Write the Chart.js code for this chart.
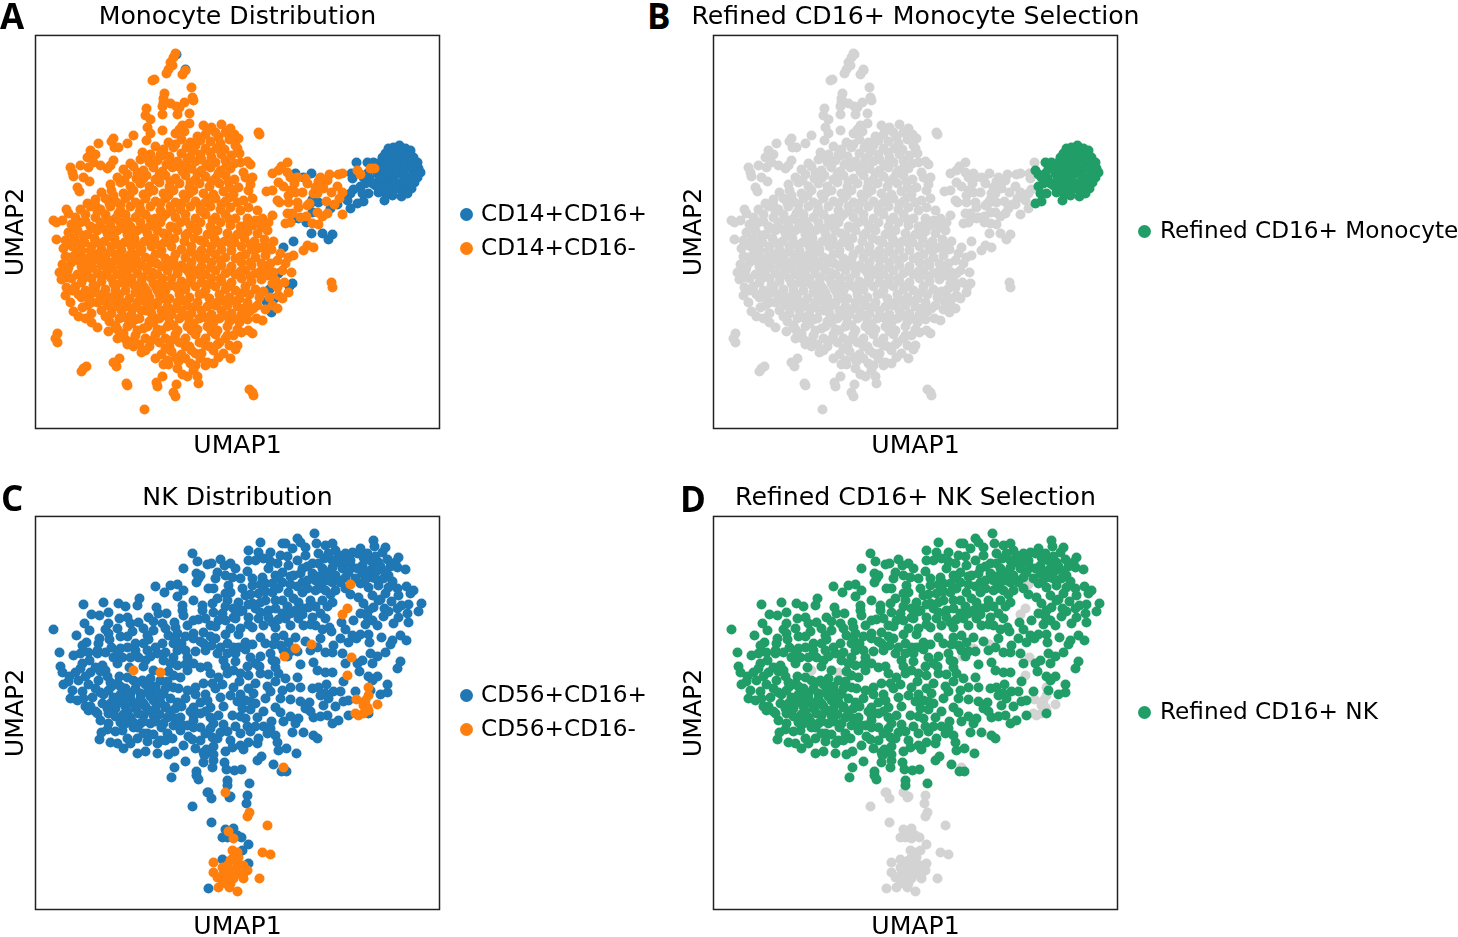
<!DOCTYPE html>
<html>
<head>
<meta charset="utf-8">
<script src="https://cdn.jsdelivr.net/npm/chart.js@4/dist/chart.umd.js"></script>
<style>
  html, body { margin: 0; padding: 0; background: #fff; }
  body { position: relative; width: 1458px; height: 937px; overflow: hidden; font-family: "DejaVu Sans", sans-serif; color: #000; }
  canvas { position: absolute; }
  .letter { position: absolute; font: bold 35px "Open Sans", sans-serif; line-height: 35px; }
  .dot { position: absolute; width: 13px; height: 13px; border-radius: 50%; }
  .lab { position: absolute; font-size: 23.2px; line-height: 28px; white-space: nowrap; }
</style>
</head>
<body>
<canvas id="a" style="left:0;top:0"></canvas>
<canvas id="b" style="left:678px;top:0"></canvas>
<canvas id="c" style="left:0;top:481px"></canvas>
<canvas id="d" style="left:678px;top:481px"></canvas>

<div class="letter" style="left:0;top:-2px">A</div>
<div class="letter" style="left:647px;top:-2px">B</div>
<div class="letter" style="left:1px;top:480px">C</div>
<div class="letter" style="left:680px;top:481px">D</div>

<div class="dot" style="left:460px;top:208px;background:#1f77b4"></div><div class="lab" style="left:481px;top:199px">CD14+CD16+</div>
<div class="dot" style="left:460px;top:242px;background:#ff7f0e"></div><div class="lab" style="left:481px;top:233px">CD14+CD16-</div>
<div class="dot" style="left:1138px;top:225px;background:#219d68"></div><div class="lab" style="left:1160px;top:216px">Refined CD16+ Monocyte</div>
<div class="dot" style="left:460px;top:689px;background:#1f77b4"></div><div class="lab" style="left:481px;top:680px">CD56+CD16+</div>
<div class="dot" style="left:460px;top:723px;background:#ff7f0e"></div><div class="lab" style="left:481px;top:714px">CD56+CD16-</div>
<div class="dot" style="left:1138px;top:706px;background:#219d68"></div><div class="lab" style="left:1160px;top:697px">Refined CD16+ NK</div>

<script>
// values, axis units are arbitrary UMAP units, y grows downward
const monoPosCore = [
  [364,110],[353,113],[358,112],[370,113],[375,115],[347,122],[343,128],[350,118],[357,119],[364,117],[371,120],[378,122],
  [345,133],[352,126],[359,125],[366,124],[373,127],[380,128],[349,133],[356,132],[363,131],[370,133],[377,134],[383,133],
  [385,137],[342,138],[348,140],[355,139],[362,138],[369,140],[376,141],[382,142],[345,147],[352,146],[359,146],[366,147],
  [373,148],[379,147],[340,150],[348,153],[355,153],[362,153],[369,154],[376,153],[343,157],[351,159],[357,160],[366,161],
  [372,158],[349,165],[334,143],[337,148],[332,138],[338,133],[344,143],[382,127],[328,142],[325,151],[333,158],[327,158],
  [328,166],[322,168],[332,127],[338,127],[330,148]
];
const monoNegCore = [[322,135],[325,139],[335,133],[339,133]];
const monoPosOther = [
  [321,127],[316,138],[317,143],[318,154],[315,158],[312,165],[315,173],[276,138],[260,138],[268,142],[288,147],[287,152],
  [283,167],[277,164],[275,168],[271,187],[263,183],[258,183],[277,177],[295,173],[302,169],[276,198],[287,198],[297,199],
  [293,204],[258,206],[248,212],[243,238],[257,248],[254,251],[234,254],[239,263],[231,266],[236,277],[141,19],[150,34],
  [152,234],[96,309]
];
const monoNegWing = [
  [252,127],[246,131],[243,135],[237,138],[252,137],[255,142],[243,147],[258,143],[262,142],[259,148],[248,151],[255,155],
  [253,160],[260,157],[267,157],[231,156],[237,155],[242,165],[244,167],[253,167],[262,167],[263,172],[252,178],[257,178],
  [265,182],[272,170],[274,168],[270,143],[272,148],[280,152],[278,158],[282,158],[285,142],[283,146],[288,153],[292,145],
  [294,139],[303,139],[307,138],[302,151],[307,157],[304,163],[296,157],[291,166],[299,169],[307,179],[287,181],[292,178],
  [282,177],[271,181],[277,188],[283,189],[255,187],[250,188],[237,180],[233,187],[227,183],[223,97],[224,99],
  [272,210],[268,215],[278,212],[258,220],[253,222],[245,218],[247,235],[256,237],[250,228],[242,225],[233,233],[232,240],
  [249,247],[253,257],[243,260],[247,263],[242,273],[237,270],[230,274],[221,283],[227,285],[217,298],[213,295],[206,297],
  [202,310],[296,247],[297,252],[214,354],[217,357],[218,360],
  [202,113],[205,127],[212,126],[215,129],[208,137],[210,142],[217,142],[215,149],[203,152],[213,155],[217,163],[208,165],
  [202,167],[222,175],[213,172],[205,175],[212,183],[220,185],[217,190],[226,192],[210,190],
  [153,236],[148,232],[98,311],[94,307]
];
const monoNegSpike = [
  [140,18],[138,22],[135,27],[137,30],[133,34],[131,38],[117,45],[119,44],[150,35],[147,39],[156,52],[157,62],[158,65],
  [129,58],[128,63],[128,67],[127,71],[135,68],[141,71],[144,72],[149,67],[111,73],[110,80],[115,84],[112,92],[127,79],
  [142,79],[154,78],[154,88],[147,90],[144,94],[127,95],[115,98],[111,105],[98,100],[92,108],[78,103],[76,106],[63,108],
  [83,112],[79,112],[55,115],[60,119],[52,122],[45,130],[58,127],[53,132],[65,130],[78,125],[72,133],[75,130],[35,132],
  [37,137],[38,141],[48,142],[54,146],[42,152],[44,156],[31,174],[33,178],[18,185],[27,185],[21,187]
];
const monoNegBottom = [
  [21,204],[22,298],[20,303],[22,307],[48,333],[46,336],[51,331],[78,327],[84,323],[81,331],[91,348],[92,350],[127,341],
  [121,347],[122,351],[141,349],[138,357],[140,361],[109,374],[163,348],[162,341],[158,335],[147,339],[152,341],[142,333],
  [128,329],[133,329],[170,330],[172,327],[178,328],[195,323],[155,328],[160,330]
];
const monoNegBody = [
  [168,90],[176,92],[186,89],[195,93],[190,97],[140,98],[170,99],[180,97],[199,99],[162,101],[149,96],
  [133,107],[146,104],[155,107],[165,105],[175,106],[185,108],[194,104],[203,103],[120,111],[128,114],[138,112],[151,112],
  [158,115],[170,113],[181,113],[189,114],[200,110],[107,117],[115,119],[125,119],[134,121],[146,118],[155,121],[165,119],
  [176,122],[186,119],[196,120],[204,118],[95,128],[105,124],[114,127],[122,125],[131,129],[142,126],[150,129],[160,126],
  [171,129],[180,127],[190,125],[199,128],[88,134],[98,131],[108,135],[118,132],[127,136],[137,132],[147,136],[156,133],
  [166,135],[175,132],[185,135],[195,133],[82,142],[92,139],[101,143],[111,140],[120,144],[130,140],[140,143],[150,140],
  [160,144],[170,141],[180,143],[190,140],[199,144],[75,149],[85,147],[95,151],[105,148],[114,151],[124,147],[134,151],
  [144,148],[154,152],[164,148],[174,151],[184,148],[194,152],[66,157],[76,155],[88,158],[98,155],[108,159],[118,155],
  [128,158],[138,155],[148,159],[158,155],[168,158],[178,159],[188,156],[198,159],[52,168],[60,164],[70,163],[80,166],
  [90,163],[100,167],[110,163],[120,166],[130,163],[140,167],[150,163],[160,166],[170,167],[180,163],[190,166],
  [45,174],[55,171],[65,174],[75,171],[85,175],[95,171],[105,174],[115,171],[125,175],[135,171],[145,174],[155,171],
  [165,175],[175,171],[185,174],[195,172],[40,182],[50,179],[60,182],[70,179],[80,183],[90,179],[100,182],[110,179],
  [120,183],[130,179],[140,182],[150,179],[160,183],[170,179],[180,182],[190,179],[200,183],[36,189],[45,187],[55,191],
  [65,187],[75,190],[85,187],[95,191],[105,187],[115,190],[125,187],[135,191],[145,187],[155,190],[165,187],[175,191],
  [185,187],[195,190],[205,191],[33,197],[42,195],[52,199],[62,195],[72,198],[82,195],[92,199],[102,195],[112,198],
  [122,195],[132,199],[142,195],[152,198],[162,195],[172,199],[182,195],[192,198],[202,199],[212,196],[222,198],[232,195],
  [30,205],[39,203],[49,207],[59,203],[69,206],[79,203],[89,207],[99,203],[109,206],[119,203],[129,207],[139,203],[149,206],
  [159,203],[169,207],[179,203],[189,206],[199,207],[209,203],[219,206],[229,204],[238,206],[28,213],[37,211],[46,215],
  [56,211],[66,214],[76,211],[86,215],[96,211],[106,214],[116,211],[126,215],[136,211],[146,214],[156,211],[166,215],
  [176,211],[186,214],[196,215],[206,211],[216,214],[226,212],[236,214],[30,221],[40,219],[50,223],[60,219],[70,222],
  [80,219],[90,223],[100,219],[110,222],[120,219],[130,223],[140,219],[150,222],[160,219],[170,223],[180,219],[190,222],
  [200,223],[210,219],[220,222],[230,220],[27,229],[36,227],[46,231],[56,227],[66,230],[76,227],[86,231],[96,227],[106,230],
  [116,227],[126,231],[136,227],[146,230],[156,227],[166,231],[176,227],[186,230],[196,231],[206,227],[216,230],[226,228],
  [24,237],[32,235],[42,239],[52,235],[62,238],[72,235],[82,239],[92,235],[102,238],[112,235],[122,239],[132,235],[142,238],
  [160,235],[170,239],[180,235],[190,238],[200,239],[210,235],[220,238],[238,237],[26,244],[36,243],[46,247],[56,243],
  [66,246],[76,243],[86,247],[96,243],[106,246],[116,243],[126,247],[136,243],[146,246],[156,243],[166,247],[176,243],
  [186,246],[196,247],[206,243],[216,246],[226,244],[240,245],[31,252],[40,251],[50,255],[60,251],[70,254],[80,251],
  [90,255],[100,251],[110,254],[120,251],[130,255],[140,251],[150,254],[160,251],[170,255],[180,251],[190,254],[200,255],
  [210,251],[220,254],[242,252],[30,260],[43,259],[54,263],[64,259],[74,262],[84,259],[94,263],[104,259],[114,262],[124,259],
  [134,263],[144,259],[154,262],[164,259],[174,263],[184,259],[194,262],[204,263],[214,259],[224,262],[234,262],[35,267],
  [52,270],[62,267],[72,270],[82,267],[92,271],[102,267],[112,270],[122,267],[132,271],[142,267],[152,270],[162,267],
  [172,271],[182,267],[192,270],[202,271],[212,267],[222,270],[38,276],[43,281],[56,278],[66,275],[76,278],[86,275],[96,279],
  [106,275],[116,278],[126,275],[136,279],[146,275],[156,278],[166,275],[176,279],[186,275],[196,278],[206,279],[214,276],
  [56,287],[62,292],[74,286],[84,283],[94,287],[104,283],[114,286],[124,283],[134,287],[144,283],[154,286],[164,283],
  [174,287],[184,283],[194,286],[204,287],[212,284],[73,296],[82,294],[92,291],[102,295],[112,291],[122,294],[132,291],
  [142,295],[152,291],[162,294],[172,291],[182,295],[192,291],[202,294],[82,303],[90,304],[100,300],[110,303],[120,299],
  [130,303],[140,299],[150,303],[160,299],[170,303],[180,299],[190,303],[198,300],[92,309],[104,309],[114,311],[124,307],
  [134,311],[144,307],[154,311],[164,307],[174,311],[184,307],[194,310],[106,317],[126,319],[136,316],[146,319],[156,315],
  [166,318],[178,315],[188,318],[200,314],[132,325],[143,326],[150,323],[165,323],[183,322]
];
const monoNegFill = [
  [172,95],[183,102],[140,109],[160,110],[127,120],[152,124],[175,117],[111,122],[137,127],[166,124],[191,130],[102,137],
  [124,139],[143,131],[162,138],[183,138],[89,145],[108,143],[135,146],[155,147],[176,146],[193,146],[78,160],[94,160],
  [113,157],[133,160],[154,158],[173,163],[194,162],[60,170],[74,168],[85,169],[104,169],[125,168],[146,168],[165,170],
  [186,169],[50,186],[62,176],[72,184],[83,178],[92,186],[104,177],[115,184],[127,182],[136,176],[150,185],[168,177],
  [177,185],[194,184],[40,192],[48,200],[58,193],[70,194],[78,199],[88,193],[98,200],[108,193],[119,191],[128,198],[138,192],
  [158,193],[178,195],[198,203],[35,209],[45,208],[55,215],[64,208],[74,201],[82,209],[94,207],[104,210],[113,203],[124,210],
  [134,206],[150,200],[165,205],[182,207],[205,197],[35,222],[45,216],[56,222],[65,217],[75,216],[85,222],[95,219],[105,216],
  [115,224],[125,218],[138,224],[155,216],[175,216],[196,209],[215,209],[33,232],[43,225],[51,230],[62,224],[71,230],[81,225],
  [91,231],[101,225],[111,232],[121,228],[131,226],[150,233],[165,223],[185,225],[205,221],[222,213],[31,242],[47,240],[57,232],
  [67,241],[77,233],[87,240],[97,232],[107,242],[117,237],[127,243],[140,231],[155,240],[175,232],[195,235],[215,227],[232,212],
  [37,255],[48,243],[58,250],[68,240],[78,248],[88,243],[98,249],[108,251],[118,248],[128,250],[143,254],[165,240],[185,243],
  [205,236],[225,236],[235,228],[46,262],[58,257],[69,258],[80,256],[90,248],[100,257],[112,257],[122,255],[135,250],[152,248],
  [173,249],[193,251],[215,241],[237,248],[47,272],[56,267],[68,265],[78,263],[88,267],[99,272],[108,265],[118,270],[128,263],
  [148,265],[168,258],[188,265],[208,257],[228,256],[50,283],[70,281],[80,271],[90,282],[100,284],[110,275],[120,283],[140,273],
  [160,271],[180,270],[200,266],[218,273],[80,290],[96,288],[108,293],[118,287],[130,280],[150,280],[170,282],[190,280],[209,273],
  [88,298],[98,305],[126,295],[138,290],[158,288],[178,287],[198,283],[118,304],[138,304],[156,295],[176,296],[110,315],[130,313],
  [150,311],[170,310],[192,300],[120,323],[140,322],[160,318],[182,309]
];

const nkPosUpper = [
  [157,37],[162,45],[172,48],[176,47],[185,43],[189,49],[195,47],[148,52],[161,57],[165,59],[161,66],[163,62],[182,56],[180,62],
  [178,72],[173,72],[190,59],[197,61],[193,69],[190,77],[195,76],[120,70],[129,76],[135,69],[142,68],[148,74],[142,80],[158,84],
  [167,89],[167,94],[177,87],[182,82],[192,84],[147,89],[147,94],[148,99],[104,82],[102,89],[83,87],[90,90],[68,86],[48,88],
  [73,96],[64,99],[56,98],[49,107],[54,114],[73,107],[70,113],[73,117],[64,122],[63,127],[84,102],[92,101],[95,107],[103,106],
  [113,101],[121,91],[123,97],[131,97],[127,107],[118,114],[112,119],[113,123],[85,120],[92,120],[139,106],[140,111],[158,104],
  [152,109],[163,103],[175,109],[183,104],[190,104],[198,101],[180,122],[133,119],[142,117],[158,117],[168,116],[158,122],[127,127],
  [120,131],[112,134],[100,127],[100,134],[92,131],[85,132],[78,141],[82,147],[87,141],[95,141],[103,141],[110,144],[122,137],
  [138,127],[142,134],[150,134],[152,141],[138,141],[128,144],[135,147],[142,149],[168,127],[170,134],[158,147],[165,151],[185,131],
  [192,127],[198,131],[182,137],[188,144],[18,113],[41,119],[51,126],[47,129],[45,137],[38,139],[24,136],[53,136],[62,137],[54,144],
  [27,156],[40,156],[45,152],[55,156],[60,151],[67,149],[70,154],[28,168],[37,174],[43,164],[42,184],[53,168],[63,164],[65,176],
  [75,166],[82,167],[92,161],[98,164],[107,164],[118,154],[115,162],[125,164],[138,159],[145,161],[152,154],[152,174],[160,171],
  [168,167],[175,157],[177,167],[183,161],[192,157],[198,154],[95,177],[105,177],[115,174],[128,177],[138,171],[142,186],[130,191],
  [118,184],[108,187],[98,187],[88,184],[78,181],[73,174],[67,187],[57,181],[165,186],[158,191],[175,191],[185,181],[195,179],[198,171],
  [100,172],[110,168],[120,170],[130,172],[90,172],[85,178],[95,182],[105,182],[115,180],[125,180],[135,182],[90,190],[100,192],
  [110,190],[120,192],[130,190],[140,192],[80,192],[72,192],[25,150],[33,165],[35,182],[47,175],[50,190],[60,195],[150,182],[170,178],
  [279,17],[262,22],[225,26],[247,27],[250,27],[265,26],[281,27],[257,32],[270,31],[290,29],[297,27],[338,24],[339,30],[350,31],
  [300,34],[303,39],[317,36],[322,37],[347,36],[213,34],[223,36],[235,36],[245,39],[213,44],[220,44],[228,42],[242,47],[270,39],
  [289,42],[277,47],[253,49],[297,44],[307,44],[315,44],[328,41],[335,44],[343,46],[363,41],[360,46],[362,51],[370,53],[200,52],
  [233,52],[247,56],[267,52],[287,52],[297,51],[307,52],[317,51],[327,49],[337,52],[342,54],[353,59],[348,62],[217,62],[227,61],
  [240,59],[258,59],[277,57],[290,59],[300,59],[310,61],[327,57],[337,61],[207,72],[217,69],[230,67],[247,66],[267,66],[280,64],
  [287,66],[297,66],[325,67],[333,71],[343,69],[353,71],[362,72],[371,70],[378,74],[375,77],[210,79],[223,77],[237,76],[253,76],
  [267,76],[280,74],[290,74],[300,74],[310,72],[323,81],[337,79],[350,77],[363,79],[356,85],[373,88],[386,87],[383,95],[203,86],
  [217,87],[230,84],[247,84],[263,86],[275,84],[287,84],[297,86],[328,87],[338,91],[333,94],[353,95],[366,89],[363,101],[372,97],
  [373,106],[358,107],[207,94],[220,92],[233,94],[247,97],[260,94],[273,91],[285,97],[290,102],[325,97],[318,104],[306,106],[337,104],
  [342,109],[200,102],[213,101],[223,102],[237,106],[250,102],[263,102],[277,101],[280,109],[287,113],[294,111],[205,112],[217,111],
  [228,109],[240,111],[255,109],[268,109],[225,121],[210,126],[203,131],[200,137],[240,121],[248,119],[260,121],[245,129],[253,126],
  [248,134],[305,122],[317,119],[325,118],[333,118],[346,121],[334,126],[313,126],[321,122],[365,119],[371,124],[357,124],[355,128],
  [275,134],[282,131],[298,129],[290,136],[297,136],[307,137],[335,137],[342,140],[350,136],[327,144],[322,147],[215,141],[225,140],
  [235,137],[237,144],[220,147],[265,148],[278,146],[282,154],[310,147],[337,147],[365,145],[362,152],[324,155],[290,156],[297,156],
  [308,165],[333,160],[342,160],[337,164],[240,151],[243,157],[225,157],[205,157],[213,159],[220,167],[232,170],[250,162],[262,161],
  [255,171],[265,171],[277,172],[283,171],[291,168],[298,175],[290,177],[293,182],[285,179],[265,185],[274,186],[288,189],[308,185],
  [313,184],[352,168],[352,176],[345,178],[335,174],[210,184],[220,187],[230,182],[240,191],[247,174],[207,192],
  [228,210],[260,207],[263,202],[205,217],[195,224],[197,231],[205,229],[208,233],[213,226],[222,227],[223,222],[185,216],[182,222],
  [177,221],[178,230],[168,236],[160,232],[148,229],[157,223],[139,235],[133,238],[122,237],[102,237],[110,235],[88,232],[82,227],
  [75,226],[64,223],[66,216],[73,207],[65,204],[73,197],[53,194],[62,197],[85,206],[87,214],[95,201],[102,222],[102,211],[112,217],
  [122,227],[125,224],[126,211],[132,217],[138,209],[145,214],[152,209],[158,204],[165,211],[170,217],[175,201],[183,199],[197,199],
  [210,202],[222,201],[245,196],[278,201],[292,199],[297,207],[303,204],[313,199],[333,197],[108,199],[118,199],[132,201],[145,201],
  [158,199],[165,197],[98,211],[105,207],[115,207],[145,207],[158,211],[95,227],[235,212],[232,217],[257,216],[268,216],[278,219],
  [282,222],[240,219],[242,226],[243,234],[251,232],[261,237],[222,244],[226,240],[238,248],[246,255],[251,255],[139,251],[150,245],
  [177,251],[191,253],[199,254],[206,253],[189,246],[178,244],[168,246],[169,239],[171,233],[178,238],[161,255],[161,259],
  [163,263],[136,261],[214,267],[192,264],[192,269]
];
const nkPosFill = [
  [205,62],[212,55],[235,45],[252,40],[262,44],[283,37],[293,37],[310,37],[325,32],[332,37],[340,40],[352,43],[255,60],[265,57],
  [272,50],[283,47],[292,56],[303,46],[312,46],[322,52],[332,55],[345,50],[355,50],[225,68],[237,67],[243,62],[255,68],[262,70],
  [272,64],[283,60],[293,64],[303,64],[313,56],[320,62],[330,63],[340,62],[350,55],[215,78],[230,75],[243,72],[258,82],[272,72],
  [283,72],[295,78],[305,66],[315,78],[345,83],[357,65],[205,95],[213,88],[225,86],[240,84],[240,92],[252,90],[268,92],[280,90],
  [292,90],[213,108],[225,96],[233,101],[243,103],[255,97],[267,98],[275,108],[190,90],[198,92],[187,97],[178,96],[170,102],
  [180,110],[195,112],[203,118],[190,118],[175,120],[165,125],[150,120],[140,123],[130,112],[118,105],[108,112],[97,115],[82,112],
  [74,123],[62,134],[70,136],[76,131],[82,136],[108,127],[115,140],[130,136],[146,127],[160,135],[176,129],[192,137],[210,133],
  [217,128],[230,127],[238,128],[190,150],[200,145],[212,150],[224,150],[233,158],[204,165],[213,172],[187,168],[205,178],[218,177],
  [240,165],[172,150],[150,148],[133,155],[108,150],[94,151],[84,160],[72,160],[65,155],[50,160],[34,160],[47,147],[60,172],[48,182],
  [55,190],[68,178],[76,170],[85,170],[93,176],[102,166],[113,168],[122,176],[132,165],[143,172],[125,186],[112,176],[103,188],
  [92,178],[84,186],[75,187],[92,195],[103,197],[113,194],[124,198],[135,195],[146,190],[80,200],[88,198],[97,205],[108,205],[120,205],
  [128,207],[140,202],[155,195],[170,195],[178,207],[188,208],[188,190],[202,185],[215,193],[228,195],[236,205],[200,210],[212,210],
  [220,210],[153,220],[165,224],[190,235],[137,222],[112,225],[92,222],[80,215],[72,213],[90,207],[108,217],[118,218],[130,224],
  [175,212],[192,215],[215,215],[248,205],[255,200],[270,192],[285,200],[245,182],[255,183],[275,195],[305,175],[300,190],[320,175],
  [180,172],[172,184],[160,178],[205,200],[215,185],[235,175],[240,145],[252,140],[262,135],[270,125],[255,135],[285,122],[296,115],
  [310,113],[330,108],[348,100],[362,92],[343,84],[349,92],[332,100]
];
const nkPosTail = [
  [172,276],[176,282],[194,281],[212,279],[211,287],[157,290],[176,306],[198,312],
  [190,313],[187,321],[192,321],[202,319],[206,321],[213,328],[207,334],[187,343],[213,347],[173,372],[195,280],[173,276]
];
const nkNeg = [
  [315,68],[312,92],[307,98],[276,128],[260,132],[249,140],[316,141],[312,159],[333,171],[333,179],[321,183],[342,188],[330,184],
  [328,189],[332,191],[98,154],[125,156],[323,199],[328,197],[320,197],[333,194],[248,251],[190,276],[214,296],[212,300],[232,309],
  [193,315],[198,322],[227,336],[235,338],[178,346],[224,362],[202,375],[183,371],[194,371],[197,334],[202,336],[198,341],[195,344],
  [192,349],[187,351],[202,349],[208,349],[212,354],[208,357],[202,357],[195,354],[188,357],[178,356],[182,361],[187,364],[192,362],
  [198,362],[208,362],[190,367],[195,367],[203,341]
];

const plotW = 404, plotH = 393;
const BLUE = '#1f77b4', ORANGE = '#ff7f0e', GREEN = '#219d68', GREY = '#d3d3d3';

function toPoints(list) {
  return list.map(pt => { return { x: pt[0], y: pt[1] } })
}

// box around the plot area, spines on all four sides
const frame = {
  id: 'frame',
  afterDatasetsDraw(chart) {
    const a = chart.chartArea, c = chart.ctx;
    c.save();
    c.strokeStyle = '#222';
    c.lineWidth = 1.5;
    c.strokeRect(a.left, a.top, a.width, a.height);
    c.restore();
  }
};

// first layer in the list is painted last, on top
function setupPanel(id, title, layers) {
  const el = document.getElementById(id);
  el.width = 475; el.height = 462;
  return new Chart(el.getContext('2d'), {
    type: 'scatter',
    data: {
      datasets: layers.map((l, i) => {
        return { data: toPoints(l.pts), backgroundColor: l.color, borderWidth: 0, pointRadius: 5, order: i }
      })
    },
    options: {
      responsive: false,
      animation: false,
      events: [],
      scales: {
        x: {
          min: 0, max: plotW,
          ticks: { display: false },
          grid: { display: false },
          border: { display: false },
          title: { display: true, text: 'UMAP1', color: '#000', padding: { top: 4, bottom: 0 }, font: { family: 'DejaVu Sans', size: 25.2 } },
          afterFit: s => { s.height = 33.5 }
        },
        y: {
          min: 0, max: plotH, reverse: true,
          ticks: { display: false },
          grid: { display: false },
          border: { display: false },
          title: { display: true, text: 'UMAP2', color: '#000', padding: { top: 1, bottom: 2 }, font: { family: 'DejaVu Sans', size: 25.2 } },
          afterFit: s => { s.width = 35.5 }
        },
        // empty right gutter, keeps the title centred over the plot
        gutter: {
          type: 'linear', position: 'right',
          ticks: { display: false },
          grid: { display: false },
          border: { display: false },
          afterFit: s => { s.width = 35.5 }
        }
      },
      plugins: {
        legend: { display: false },
        tooltip: { enabled: false },
        title: { display: true, text: title, color: '#000', padding: { top: 2, bottom: 3.2 }, font: { family: 'DejaVu Sans', size: 25.2, weight: 'normal' } }
      }
    },
    plugins: [frame]
  });
}

const monoNeg = monoNegBody.concat(monoNegFill, monoNegWing, monoNegSpike, monoNegBottom);
const nkPos = nkPosUpper.concat(nkPosFill);

setupPanel('a', 'Monocyte Distribution', [
  { pts: monoNeg.concat(monoNegCore), color: ORANGE },
  { pts: monoPosCore.concat(monoPosOther), color: BLUE }
]);
setupPanel('b', 'Refined CD16+ Monocyte Selection', [
  { pts: monoPosCore.concat(monoNegCore), color: GREEN },
  { pts: monoNeg.concat(monoPosOther), color: GREY }
]);
setupPanel('c', 'NK Distribution', [
  { pts: nkNeg, color: ORANGE },
  { pts: nkPos.concat(nkPosTail), color: BLUE }
]);
setupPanel('d', 'Refined CD16+ NK Selection', [
  { pts: nkPos, color: GREEN },
  { pts: nkNeg.concat(nkPosTail), color: GREY }
]);
</script>
</body>
</html>
